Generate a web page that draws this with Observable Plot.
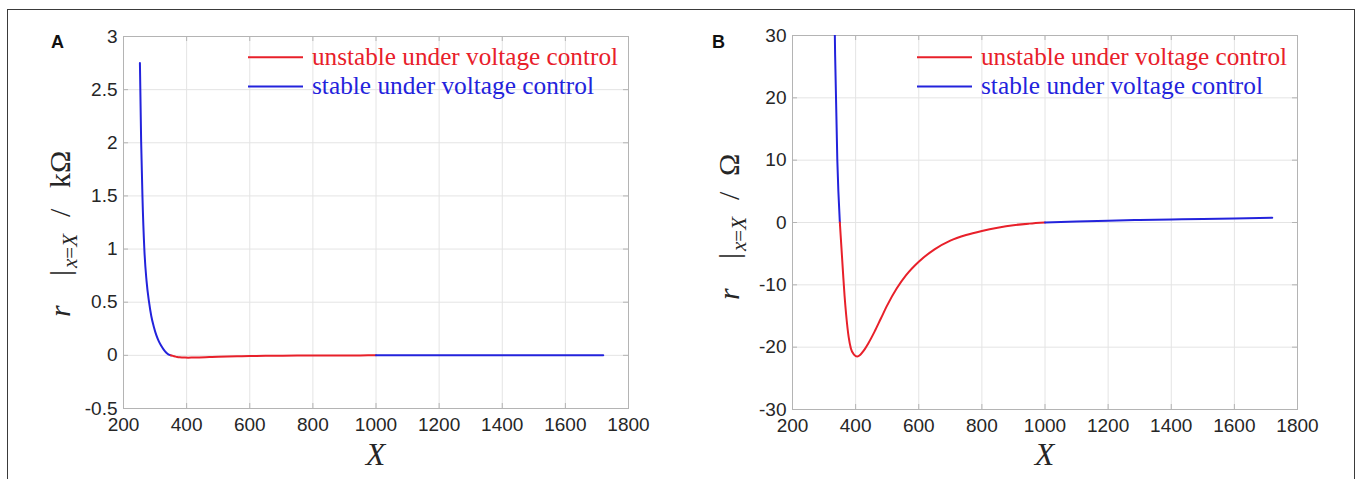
<!DOCTYPE html>
<html><head><meta charset="utf-8">
<script src="https://cdn.jsdelivr.net/npm/d3@7"></script>
<script src="https://cdn.jsdelivr.net/npm/@observablehq/plot@0.6"></script>
<style>
body{margin:0;background:#fff;}
#root{position:relative;width:1357px;height:479px;overflow:hidden;background:#fff;}
#frame{position:absolute;left:7px;top:9px;width:1348px;height:490px;border:1.5px solid #3a3a3a;box-sizing:border-box;}
.panel{position:absolute;top:0;}
.panel svg{display:block;overflow:visible;}
.serif{font-family:'Liberation Serif','Times New Roman',serif !important;}
</style></head><body>
<div id="root"><div id="frame"></div><div id="pa" class="panel" style="left:0px"></div><div id="pb" class="panel" style="left:680px"></div></div>
<script>
// ---- data (r in ohm) ----
const X = [252,256,260,266,273,281,288,296,304,312,320,328,335,342,350,355,360,365,370,378,385,395,405,415,425,440,460,480,500,530,560,600,650,700,750,800,850,900,950,1000,1100,1200,1300,1400,1500,1600,1720];
const rOhm = [2750,2000,1500,1000,700,500,370,270,190,132,88,52,27,10,0,-4,-8,-11.8,-14.8,-18.4,-20.2,-21.2,-21.5,-21.2,-20.6,-19.4,-17.5,-15.4,-13.3,-10.6,-8.45,-6.3,-4.3,-2.9,-2.0,-1.35,-0.83,-0.43,-0.18,0,0.17,0.3,0.4,0.49,0.58,0.66,0.77];
const xTicks = [200,400,600,800,1000,1200,1400,1600,1800];
const yTicksA = [-0.5,0,0.5,1,1.5,2,2.5,3];
const yTicksB = [-30,-20,-10,0,10,20,30];
const states = ["unstable","stable"];
const legendLabels = ["unstable under voltage control","stable under voltage control"];
const panelLetters = ["A","B"];
const RED = "#e8202a", BLUE = "#2323dc";

function segments(xs, ys){
  const rows=[]; const n=xs.length; let seg=0, start=0;
  const st = k => (ys[k]+ys[k+1]) >= 0 ? "stable" : "unstable";
  while(start < n-1){
    const s = st(start); let end = start;
    while(end < n-1 && st(end) === s) end++;
    for(let k=start;k<=end;k++) rows.push({X:xs[k], r:ys[k], seg, state:s});
    seg++; start = end;
  }
  return rows;
}
const rows = segments(X, rOhm);

function panel(cfg){
  const {el, W, H, ml, mr, mt, mb, yDomain, yTicks, scale, letter, letterX, unitK, labelBase, labelStart, legendX} = cfg;
  const pw = W-ml-mr, ph = H-mt-mb;
  const axisCol = "#b4b4b4";
  const svgNode = Plot.plot({
    width:W, height:H, marginLeft:ml, marginRight:mr, marginTop:mt, marginBottom:mb,
    style:{background:"transparent", fontFamily:"'Liberation Sans', Arial, sans-serif", overflow:"visible"},
    x:{domain:[200,1800]},
    y:{domain:yDomain},
    color:{domain:states, range:[RED, BLUE]},
    marks:[
      Plot.gridX(xTicks,{stroke:"#e4e4e4", strokeOpacity:1}),
      Plot.gridY(yTicks,{stroke:"#e4e4e4", strokeOpacity:1}),
      Plot.frame({stroke:axisCol}),
      Plot.ruleX(xTicks,{stroke:axisCol, insetTop:ph-5}),
      Plot.ruleX(xTicks,{stroke:axisCol, insetBottom:ph-5}),
      Plot.ruleY(yTicks,{stroke:axisCol, insetRight:pw-5}),
      Plot.ruleY(yTicks,{stroke:axisCol, insetLeft:pw-5}),
      Plot.axisX(xTicks,{tickSize:0, tickPadding:9, fontSize:19, fill:"#262626", label:null, tickFormat:d=>String(d)}),
      Plot.axisY(yTicks,{tickSize:0, tickPadding:6, fontSize:19, fill:"#262626", label:null, tickFormat:d=>String(d)}),
      Plot.line(rows,{x:"X", y:d=>d.r*scale, z:"seg", stroke:"state", strokeWidth:2, curve:"monotone-x", clip:true})
    ]
  });
  el.appendChild(svgNode);
  const svg = d3.select(svgNode);
  // panel letter
  svg.append("text").attr("x",letterX).attr("y",48).attr("text-anchor","middle")
    .attr("font-family","'Liberation Sans', Arial, sans-serif").attr("font-weight","bold").attr("font-size",18)
    .attr("fill","#111").text(letter);
  // x title
  svg.append("text").attr("class","serif").attr("x", ml+pw/2).attr("y",465).attr("text-anchor","middle")
    .attr("font-style","italic").attr("font-size",32)
    .attr("fill","#262626").text("X");
  // y title
  const g = svg.append("g").attr("transform",`translate(${labelBase},${labelStart}) rotate(-90)`);
  const t = g.append("text").attr("class","serif").attr("text-anchor","start").attr("font-size",30).attr("fill","#262626");
  t.append("tspan").attr("x",0).attr("font-style","italic").text("r");
  t.append("tspan").attr("x",41).text("|");
  t.append("tspan").attr("x",49).attr("dy",7).attr("font-size",21).attr("font-style","italic").text("x");
  t.append("tspan").attr("font-size",21).text("=");
  t.append("tspan").attr("font-size",21).attr("font-style","italic").text("X");
  t.append("tspan").attr("x",100).attr("dy",-7).text("/");
  t.append("tspan").attr("x",unitK ? 129 : 124).text(unitK ? "kΩ" : "Ω");
  // legend
  const lens = [306, 282];
  const cols = [RED, BLUE];
  [57.3, 86.5].forEach((yy,i)=>{
    svg.append("line").attr("x1",legendX).attr("x2",legendX+55).attr("y1",yy).attr("y2",yy)
      .attr("stroke",cols[i]).attr("stroke-width",2);
    svg.append("text").attr("class","serif").attr("x",legendX+64).attr("y",yy+7.7).attr("text-anchor","start")
      .attr("font-size",25).attr("fill",cols[i])
      .attr("textLength",lens[i]).attr("lengthAdjust","spacingAndGlyphs").text(legendLabels[i]);
  });
}

panel({el:document.getElementById("pa"), W:680, H:479, ml:123, mr:52, mt:36, mb:71,
  yDomain:[-0.5,3], yTicks:yTicksA, scale:0.001, letter:panelLetters[0], letterX:57.5,
  unitK:true, labelBase:70, labelStart:317, legendX:248});
panel({el:document.getElementById("pb"), W:677, H:479, ml:112, mr:60, mt:35, mb:70,
  yDomain:[-30,30], yTicks:yTicksB, scale:1, letter:panelLetters[1], letterX:38.5,
  unitK:false, labelBase:59, labelStart:300, legendX:237});
</script>
</body></html>
